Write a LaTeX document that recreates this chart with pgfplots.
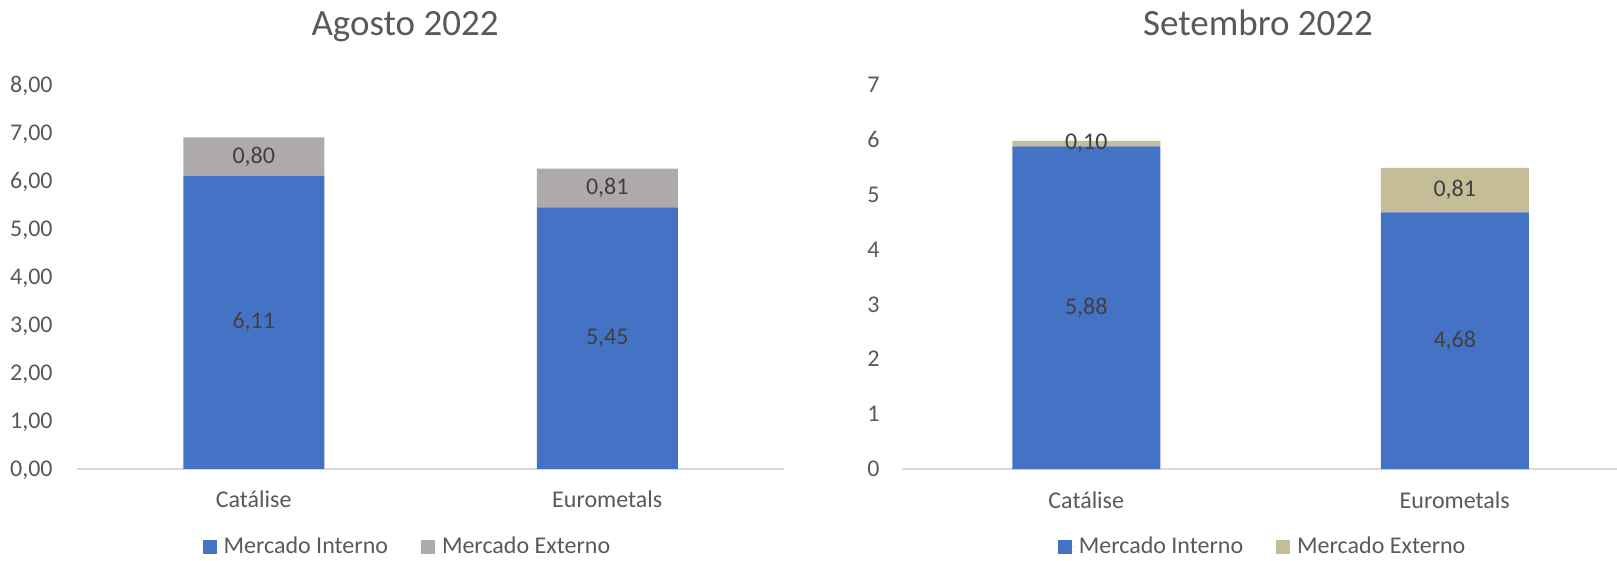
\documentclass[border=0pt]{standalone}
\usepackage{fontspec}
\setmainfont{Carlito}
\usepackage{pgfplots}
\pgfplotsset{compat=1.18}

\definecolor{interno}{HTML}{4472C4}
\definecolor{extcinza}{HTML}{AEAAAA}
\definecolor{extbege}{HTML}{C4BD97}
\definecolor{texto}{HTML}{595959}
\definecolor{rotulo}{HTML}{404040}
\definecolor{linhabase}{HTML}{D9D9D9}

\newcommand{\lblfont}{\fontsize{12bp}{14bp}\selectfont}
\newcommand{\titfont}{\fontsize{18.5bp}{22bp}\selectfont}

\pgfplotsset{
  painel/.style={
    ybar stacked,
    scale only axis,
    height=192bp,
    ymin=0,
    xmin=-0.5,
    xtick={0,1},
    xticklabels={Catálise,Eurometals},
    clip=false,
    axis x line*=bottom,
    axis y line*=left,
    axis line style={-},
    x axis line style={draw=linhabase, line width=1bp},
    y axis line style={draw=none},
    major tick length=0pt,
    /pgf/number format/assume math mode=true,
    tick label style={font=\lblfont, text=texto},
    xticklabel style={anchor=base, inner sep=0pt, yshift=-19.5bp},
    yticklabel style={anchor=base east, inner sep=0pt, xshift=-12bp, yshift=-3.8bp},
    title style={font=\titfont, text=texto, anchor=base},
    legend style={draw=none, fill=none, legend columns=2, anchor=center,
      font=\lblfont, nodes={text=texto, inner sep=1.5bp},
      /tikz/every even column/.append style={column sep=15bp}},
    legend image code/.code={\path (0bp,0bp) -- (9bp,0bp);
      \fill[##1] (0bp,-3.5bp) rectangle (7bp,3.5bp);},
    visualization depends on={rawy \as \segval},
    nodes near coords={\pgfmathprintnumber[fixed,fixed zerofill,precision=2,use comma]{\segval}},
    every node near coord/.append style={font=\lblfont, text=rotulo, anchor=center},
  },
}

\begin{document}
\begin{tikzpicture}
\useasboundingbox (0,0) rectangle (808.5bp,280.5bp);

% Agosto 2022
\begin{axis}[painel,
  at={(38.5bp,46bp)}, anchor=south west,
  width=353.5bp, xmax=1.5, ymax=8, ytick={0,1,...,8},
  bar width=70.5bp,
  yticklabel style={/pgf/number format/.cd, fixed, fixed zerofill, precision=2, use comma},
  title={Agosto 2022}, title style={at={(0.464,1.097)}},
  legend style={at={(0.468,-0.203)}},
]
\addplot[fill=interno, draw=none] coordinates {(0,6.11) (1,5.45)};
\addplot[fill=extcinza, draw=none] coordinates {(0,0.80) (1,0.81)};
\legend{Mercado Interno, Mercado Externo}
\end{axis}

% Setembro 2022
\begin{axis}[painel,
  at={(451bp,46bp)}, anchor=south west,
  width=357.5bp, xmax=1.4403, ymax=7, ytick={0,1,...,7},
  bar width=74bp,
  yticklabel style={xshift=1bp},
  title={Setembro 2022}, title style={at={(0.498,1.097)}},
  legend style={at={(0.505,-0.203)}},
]
\addplot[fill=interno, draw=none] coordinates {(0,5.88) (1,4.68)};
\addplot[fill=extbege, draw=none] coordinates {(0,0.10) (1,0.81)};
\legend{Mercado Interno, Mercado Externo}
\end{axis}
\end{tikzpicture}
\end{document}
